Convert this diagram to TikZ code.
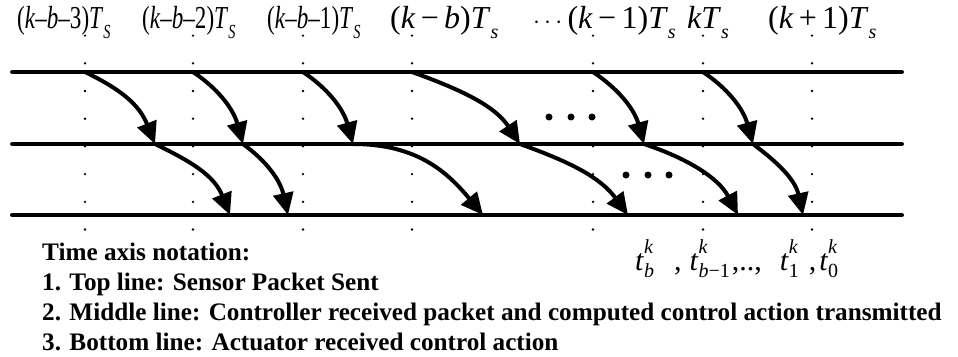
\documentclass[tikz,border=0pt]{standalone}
\usepackage{fontspec}
\setmainfont{Liberation Serif}
\usepackage{graphicx}
\usetikzlibrary{arrows.meta}
\newcommand\lblsz{\fontsize{32}{34}\selectfont}
\newcommand\tlsz{\fontsize{30}{32}\selectfont}
\newcommand\subsz{\fontsize{20}{22}\selectfont}
\newcommand\mysub[1]{\raisebox{-10pt}{\subsz\textit{#1}}}
\newcommand\tsym[1]{\textit{t}\rlap{\raisebox{17pt}{\subsz\textit{k}}}\raisebox{-7pt}{\subsz #1}}
\begin{document}
\begin{tikzpicture}[x=1pt,y=-1pt,
  axis/.style={line width=4pt, line cap=round},
  flow/.style={line width=4pt, -{Triangle[length=22pt,width=20pt]}},
  lbl/.style={anchor=base west, inner sep=0pt, font=\lblsz},
  bigdot/.style={fill=black, draw=none},
  smalldot/.style={fill=black, draw=none}]
\useasboundingbox (0,0) rectangle (958,356);
% dotted time columns
\foreach \cx in {85,193,303,412,593,703,812}{
  \foreach \i in {0,...,7}{
    \fill[smalldot] (\cx,35.6+27.7*\i) circle (1.3pt);
  }
}
% axes
\coordinate (TL) at (12,72);  \coordinate (TR) at (902,72);
\coordinate (ML) at (12,144); \coordinate (MR) at (902,144);
\coordinate (BL) at (12,215); \coordinate (BR) at (902,215);
\draw[axis] (TL) -- (TR);
\draw[axis] (ML) -- (MR);
\draw[axis] (BL) -- (BR);
% event points
\coordinate (T1) at (85,72);  \coordinate (T2) at (193,72);  \coordinate (T3) at (303,72);
\coordinate (T4) at (412,72); \coordinate (T5) at (593,72);  \coordinate (T6) at (703,72);
\coordinate (M1) at (155,144); \coordinate (M2) at (243,144); \coordinate (M3) at (353,144);
\coordinate (M4) at (520,144); \coordinate (M5) at (644,144); \coordinate (M6) at (753,144);
\coordinate (B1) at (230,215); \coordinate (B2) at (288,215); \coordinate (B3) at (483,215);
\coordinate (B4) at (628,215); \coordinate (B5) at (738,215); \coordinate (B6) at (803,215);
% sensor -> controller
\draw[flow] (T1) .. controls +(35,17) and +(-16,-40) .. (M1);
\draw[flow] (T2) .. controls +(24,16) and +(-10,-36) .. (M2);
\draw[flow] (T3) .. controls +(24,16) and +(-10,-36) .. (M3);
\draw[flow] (T4) .. controls +(50,18) and +(-25,-38) .. (M4);
\draw[flow] (T5) .. controls +(24,16) and +(-10,-36) .. (M5);
\draw[flow] (T6) .. controls +(24,16) and +(-10,-36) .. (M6);
% controller -> actuator
\draw[flow] (M1) .. controls +(35,17) and +(-16,-40) .. (B1);
\draw[flow] (M2) .. controls +(22,16) and +(-8,-36) .. (B2);
\draw[flow] (M3) .. controls +(65,0) and +(-35,-42) .. (B3);
\draw[flow] (M4) .. controls +(50,18) and +(-28,-38) .. (B4);
\draw[flow] (M5) .. controls +(42,14) and +(-20,-38) .. (B5);
\draw[flow] (M6) .. controls +(24,18) and +(-8,-36) .. (B6);
% ellipses
\foreach \ex in {549,571,592}{ \fill[bigdot] (\ex,117) circle (3.5pt); }
\foreach \ex in {626,648,669}{ \fill[bigdot] (\ex,175) circle (3.5pt); }
% time labels
\node[lbl] (L1) at (17,28) {\scalebox{0.72}[1]{(\textit{k}–\textit{b}–3)\textit{T}\mysub{S}}};
\node[lbl] (L2) at (142,28) {\scalebox{0.72}[1]{(\textit{k}–\textit{b}–2)\textit{T}\mysub{S}}};
\node[lbl] (L3) at (267,28) {\scalebox{0.72}[1]{(\textit{k}–\textit{b}–1)\textit{T}\mysub{S}}};
\node[lbl] (L4) at (390,28) {(\textit{k}\,−\,\textit{b})\textit{T}\mysub{s}};
\node[lbl] (L5) at (533,28) {$\cdots$\,(\textit{k}\,−\,1)\textit{T}\mysub{s}};
\node[lbl] (L6) at (687,28) {\textit{kT}\mysub{s}};
\node[lbl] (L7) at (768,28) {(\textit{k}\,+\,1)\textit{T}\mysub{s}};
% delay labels
\node[lbl, font=\tlsz] (TK) at (635,270) {\tsym{\textit{b}}\hspace{20pt},\hspace{8pt}\tsym{\textit{b}−1}\hspace{2pt},..,\hspace{18pt}\tsym{1}\hspace{10pt},\hspace{3pt}\tsym{0}};
% legend
\node[anchor=base west, inner sep=0pt, align=left, font=\fontsize{25.2}{30}\selectfont\bfseries] (LEG) at (42,350)
  {Time axis notation:\\
   1. Top line: Sensor Packet Sent\\
   2. Middle line: Controller received packet and computed control action transmitted\\
   3. Bottom line: Actuator received control action};
\end{tikzpicture}
\end{document}
